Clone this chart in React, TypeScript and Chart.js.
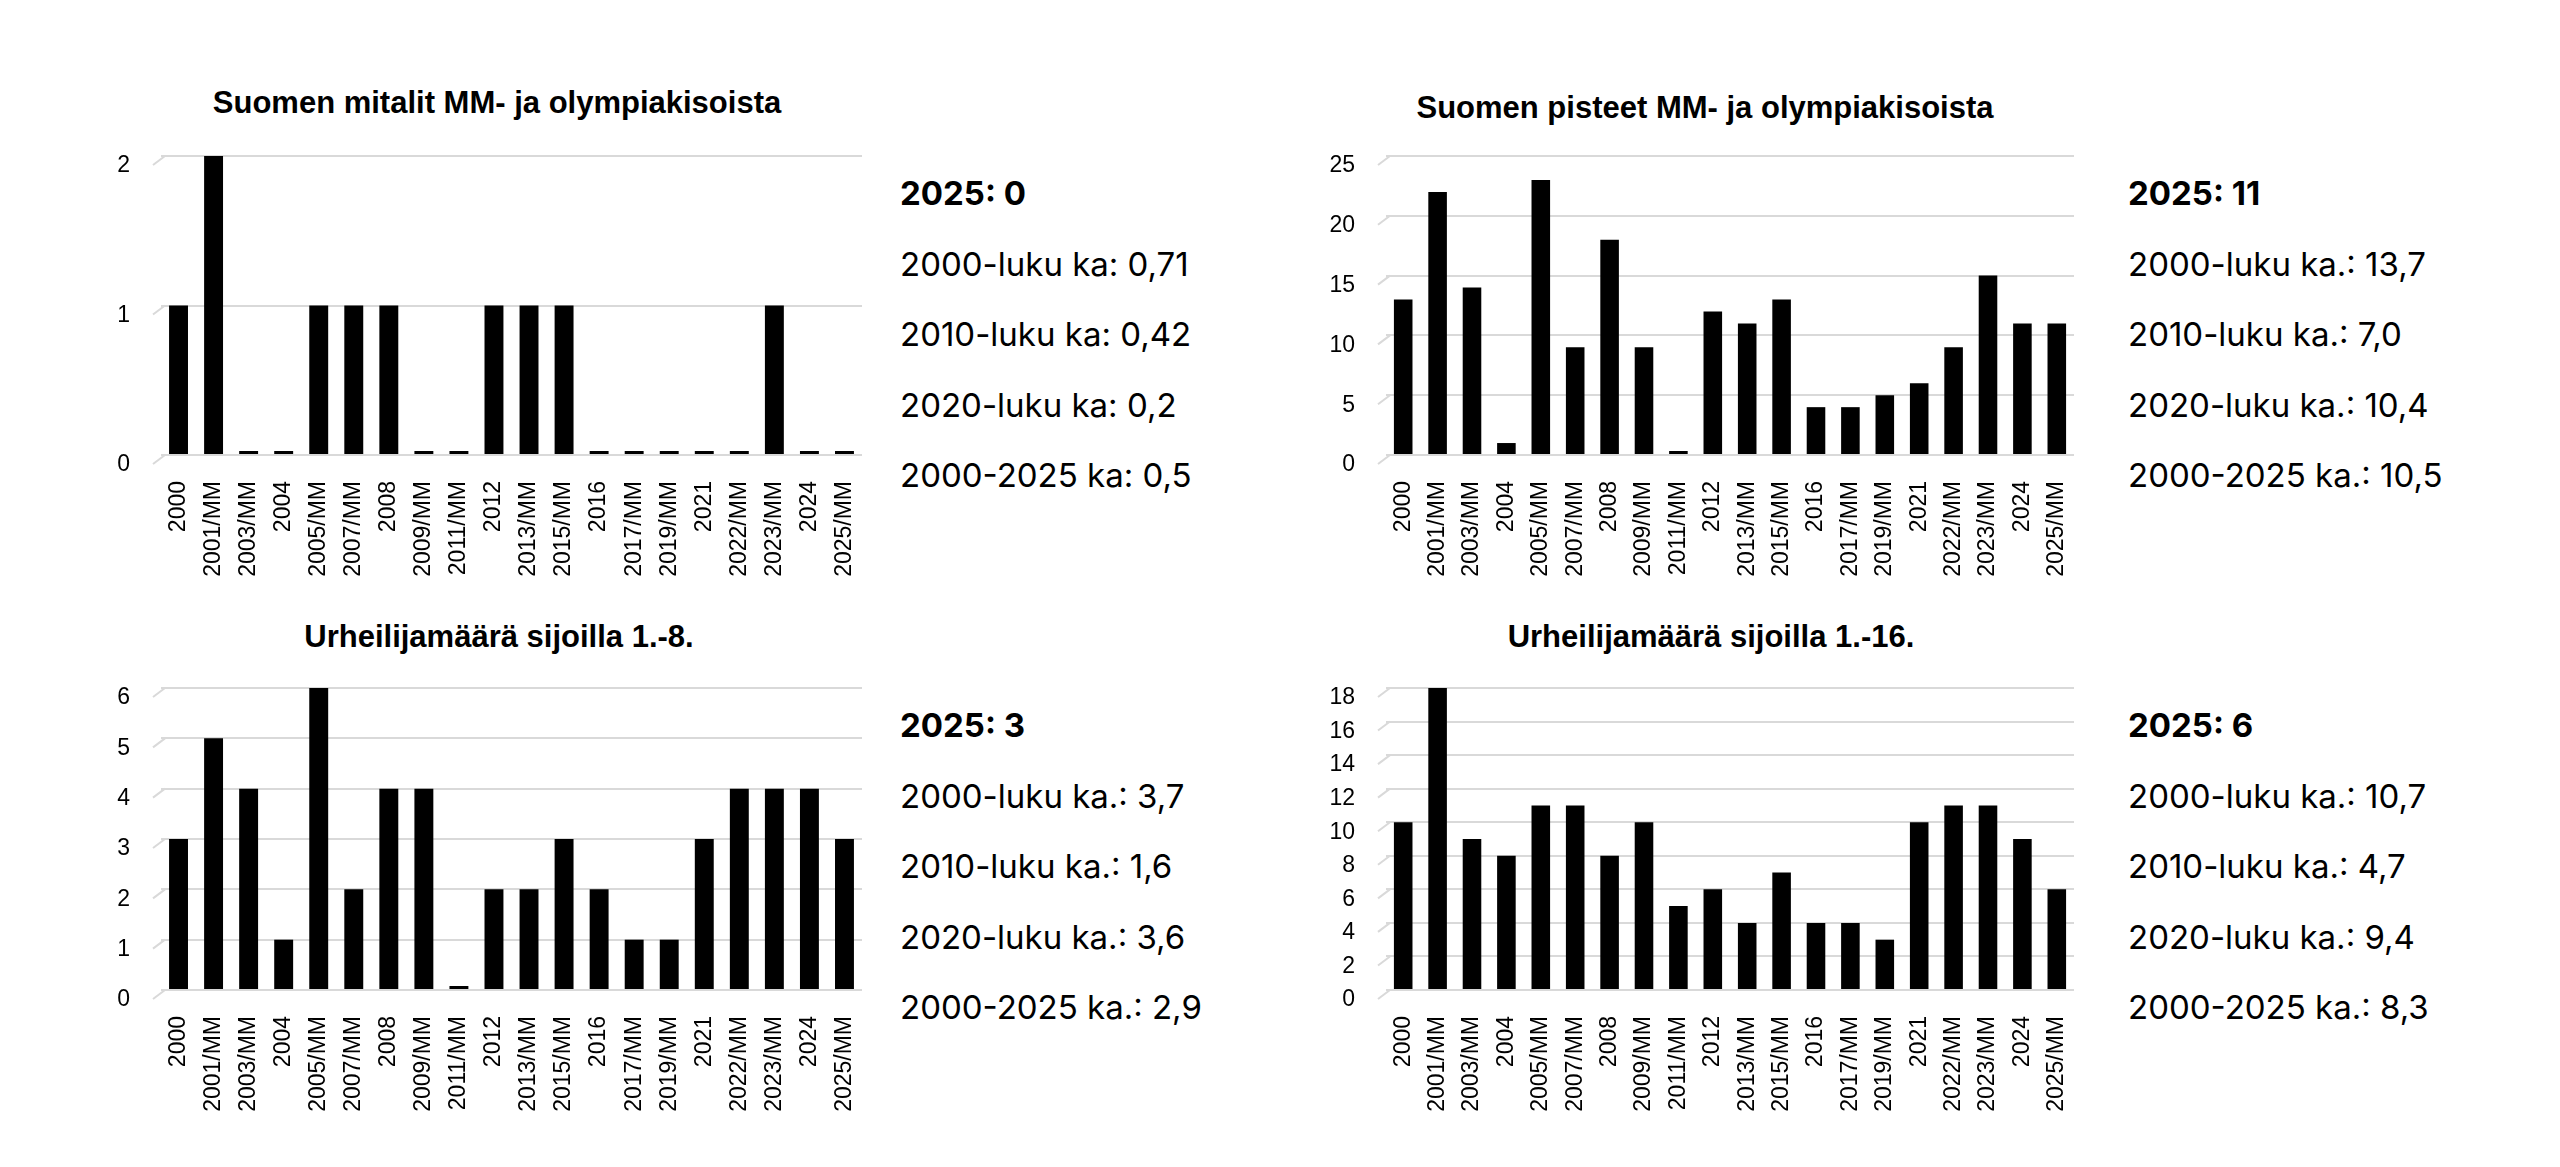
import React, { useEffect, useRef } from "react";
import { Chart, registerables } from "chart.js";

Chart.register(...registerables);

// ---------- DATA ----------
const categories = [
  "2000", "2001/MM", "2003/MM", "2004", "2005/MM", "2007/MM", "2008", "2009/MM", "2011/MM", "2012",
  "2013/MM", "2015/MM", "2016", "2017/MM", "2019/MM", "2021", "2022/MM", "2023/MM", "2024", "2025/MM",
];

const medals = [1, 2, 0, 0, 1, 1, 1, 0, 0, 1, 1, 1, 0, 0, 0, 0, 0, 1, 0, 0];
const points = [13, 22, 14, 1, 23, 9, 18, 9, 0, 12, 11, 13, 4, 4, 5, 6, 9, 15, 11, 11];
const top8 = [3, 5, 4, 1, 6, 2, 4, 4, 0, 2, 2, 3, 2, 1, 1, 3, 4, 4, 4, 3];
const top16 = [10, 18, 9, 8, 11, 11, 8, 10, 5, 6, 4, 7, 4, 4, 3, 10, 11, 11, 9, 6];

const titles = [
  "Suomen mitalit MM- ja olympiakisoista",
  "Suomen pisteet MM- ja olympiakisoista",
  "Urheilijamäärä sijoilla 1.-8.",
  "Urheilijamäärä sijoilla 1.-16.",
];

const medalStats = ["2025: 0", "2000-luku ka: 0,71", "2010-luku ka: 0,42", "2020-luku ka: 0,2", "2000-2025 ka: 0,5"];
const pointStats = ["2025: 11", "2000-luku ka.: 13,7", "2010-luku ka.: 7,0", "2020-luku ka.: 10,4", "2000-2025 ka.: 10,5"];
const top8Stats = ["2025: 3", "2000-luku ka.: 3,7", "2010-luku ka.: 1,6", "2020-luku ka.: 3,6", "2000-2025 ka.: 2,9"];
const top16Stats = ["2025: 6", "2000-luku ka.: 10,7", "2010-luku ka.: 4,7", "2020-luku ka.: 9,4", "2000-2025 ka.: 8,3"];

const axisMax = [2, 25, 6, 18];
const axisStep = [1, 5, 1, 2];

// ---------- STYLE ----------
const GRID = "#d9d9d9";
const TICK_FONT = "'Liberation Sans', Arial, sans-serif";
const TEXT_FONT = "Inter, 'Noto Sans', sans-serif";

const diagPlugin = {
  id: "diagTicks",
  beforeDatasetsDraw(chart: any) {
    const y = chart.scales.y;
    const ctx = chart.ctx;
    ctx.save();
    ctx.strokeStyle = GRID;
    ctx.lineWidth = 2;
    y.ticks.forEach((_t: any, i: number) => {
      const py = y.getPixelForTick(i);
      ctx.beginPath();
      ctx.moveTo(chart.chartArea.left + 4, py);
      ctx.lineTo(chart.chartArea.left - 8, py + 9);
      ctx.stroke();
    });
    ctx.restore();
  },
};

type Area = { left: number; top: number; right: number; bottom: number };

function BarChart({ values, max, step, area }: { values: number[]; max: number; step: number; area: Area }) {
  const ref = useRef<HTMLCanvasElement>(null);
  const YW = 60, PT = 20, PR = 16, XH = 130;
  const width = YW + (area.right - area.left) + PR;
  const height = PT + (area.bottom - area.top) + XH;

  useEffect(() => {
    const chart = new Chart(ref.current!, {
      type: "bar",
      data: {
        labels: categories,
        datasets: [
          {
            data: values,
            backgroundColor: "#000",
            barPercentage: 0.54,
            categoryPercentage: 1,
            minBarLength: 4,
          },
        ],
      },
      options: {
        animation: false,
        responsive: false,
        maintainAspectRatio: false,
        layout: { padding: { top: PT, right: PR, left: 0, bottom: 0 } },
        plugins: { legend: { display: false }, tooltip: { enabled: false } },
        scales: {
          x: {
            grid: {
              display: true,
              drawOnChartArea: false,
              drawTicks: true,
              tickLength: 26,
              tickColor: "rgba(0,0,0,0)",
              color: "rgba(0,0,0,0)",
            },
            border: { display: false },
            ticks: {
              autoSkip: false,
              minRotation: 90,
              maxRotation: 90,
              padding: 0,
              color: "#000",
              font: { family: TICK_FONT, size: 23 },
            },
            afterFit: (s: any) => {
              s.height = XH;
            },
          },
          y: {
            min: 0,
            max,
            grid: { color: GRID, lineWidth: 2, drawTicks: true, tickLength: 31, tickColor: "rgba(0,0,0,0)" },
            border: { display: false },
            ticks: {
              stepSize: step,
              padding: 0,
              labelOffset: 10,
              color: "#000",
              font: { family: TICK_FONT, size: 23 },
            },
            afterFit: (s: any) => {
              s.width = YW;
            },
          },
        },
      } as any,
      plugins: [diagPlugin],
    });
    return () => chart.destroy();
  }, []);

  return (
    <canvas
      ref={ref}
      width={width}
      height={height}
      style={{ position: "absolute", left: area.left - YW, top: area.top - PT, width, height }}
    />
  );
}

function Title({ text, cx, cy }: { text: string; cx: number; cy: number }) {
  return (
    <div
      style={{
        position: "absolute",
        left: cx,
        top: cy - 20,
        height: 40,
        lineHeight: "40px",
        transform: "translateX(-50%)",
        whiteSpace: "nowrap",
        fontFamily: TICK_FONT,
        fontWeight: 700,
        fontSize: 31,
        color: "#000",
      }}
    >
      {text}
    </div>
  );
}

function Stats({ lines, x, y0 }: { lines: string[]; x: number; y0: number }) {
  return (
    <>
      {lines.map((t, i) => (
        <div
          key={i}
          style={{
            position: "absolute",
            left: x,
            top: y0 + i * 70.5 - 25,
            height: 50,
            lineHeight: "50px",
            whiteSpace: "nowrap",
            fontFamily: TEXT_FONT,
            fontWeight: i === 0 ? 700 : 400,
            fontSize: 33,
            color: "#000",
          }}
        >
          {t}
        </div>
      ))}
    </>
  );
}

export default function App() {
  const leftArea = { left: 161, right: 862 };
  const rightArea = { left: 1386, right: 2074 };
  const topRow = { top: 156, bottom: 455 };
  const botRow = { top: 688, bottom: 990 };
  return (
    <div
      style={{
        position: "absolute",
        left: 0,
        top: 0,
        width: 2560,
        height: 1167,
        background: "#fff",
        overflow: "hidden",
      }}
    >
      <Title text={titles[0]} cx={497} cy={103} />
      <Title text={titles[1]} cx={1705} cy={108} />
      <Title text={titles[2]} cx={499} cy={637} />
      <Title text={titles[3]} cx={1711} cy={637} />

      <BarChart values={medals} max={axisMax[0]} step={axisStep[0]} area={{ ...leftArea, ...topRow }} />
      <BarChart values={points} max={axisMax[1]} step={axisStep[1]} area={{ ...rightArea, ...topRow }} />
      <BarChart values={top8} max={axisMax[2]} step={axisStep[2]} area={{ ...leftArea, ...botRow }} />
      <BarChart values={top16} max={axisMax[3]} step={axisStep[3]} area={{ ...rightArea, ...botRow }} />

      <Stats lines={medalStats} x={900} y0={193} />
      <Stats lines={pointStats} x={2128} y0={193} />
      <Stats lines={top8Stats} x={900} y0={725} />
      <Stats lines={top16Stats} x={2128} y0={725} />
    </div>
  );
}
